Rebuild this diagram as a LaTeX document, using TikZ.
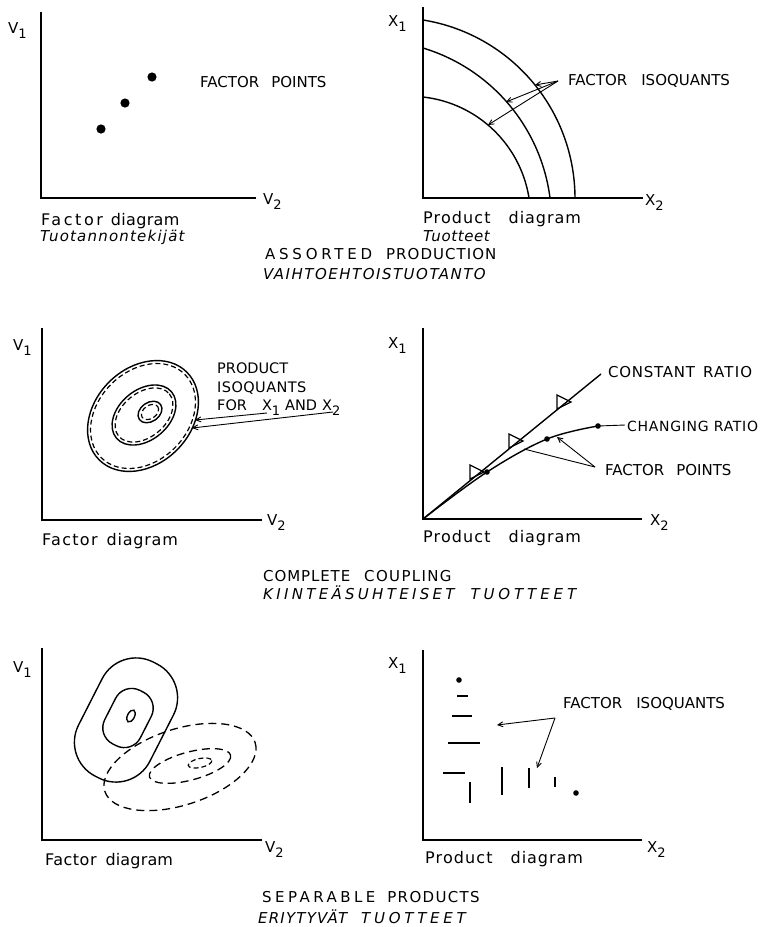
\documentclass[tikz,border=0pt]{standalone}
\usepackage{fontspec}
\setmainfont{DejaVu Sans}
\usetikzlibrary{arrows.meta}
\newcommand\lowsub[1]{\raisebox{-5pt}{\fontsize{13}{13}\selectfont #1}}
\newcommand\lsp[1]{\addfontfeature{LetterSpace=#1}}
\begin{document}
\begin{tikzpicture}[x=1pt,y=-1pt,
  ax/.style={line width=2.2pt},
  crv/.style={line width=1.4pt},
  ldr/.style={line width=0.9pt},
  arr/.style={ldr,-{Straight Barb[length=5pt,width=5pt]}},
  dshS/.style={line width=1.2pt,dash pattern=on 5pt off 3pt},
  dshL/.style={line width=1.3pt,dash pattern=on 8pt off 5pt},
  tri/.style={line width=1.2pt},
  txt/.style={inner sep=0pt,anchor=base west},
  lab/.style={txt,font=\fontsize{15}{15}\selectfont},
  labs/.style={txt,font=\fontsize{14.5}{14.5}\selectfont},
  dia/.style={txt,font=\fontsize{16}{16}\selectfont},
  itl/.style={txt,font=\fontsize{15}{15}\selectfont\itshape},
  capt/.style={txt,font=\fontsize{15}{15}\selectfont},
  capi/.style={txt,font=\fontsize{15}{15}\selectfont\itshape},
]
\useasboundingbox (0,0) rectangle (762,927);

% ================= Row 1 left
\draw[ax] (41,12) -- (41,198) -- (256,198);
\node[lab] (tlV1) at (8,33) {V\lowsub{1}};
\node[lab] (tlV2) at (263,204) {V\lowsub{2}};
\fill (101,129) circle[radius=4.6];
\fill (125,103) circle[radius=4.6];
\fill (152,77) circle[radius=4.6];
\node[lab] (tlfp) at (200,87) {FACTOR\hspace{12pt}POINTS};
\node[dia] (tlfd) at (41,225) {{\lsp{16}Factor}\hspace{8pt}{\lsp{2}diagram}};
\node[itl] (tltu) at (40,241) {\lsp{8}Tuotannontekijät};

% ================= Row 1 right
\draw[ax] (423,7) -- (423,198) -- (643,198);
\node[lab] (trX1) at (388,26) {X\lowsub{1}};
\node[lab] (trX2) at (645,205) {X\lowsub{2}};
\draw[crv] plot[domain=80.9:0,samples=60] ({394.4+180.6*cos(\x)},{198.3-180.6*sin(\x)});
\draw[crv] plot[domain=73.2:7.3,samples=60] ({370.8+180.7*cos(\x)},{221-180.7*sin(\x)});
\draw[crv] plot[domain=83.8:9.0,samples=60] ({409.9+120.6*cos(\x)},{216.9-120.6*sin(\x)});
\node[lab] (trfi) at (568,85) {FACTOR\hspace{14pt}ISOQUANTS};
\coordinate (trS) at (558,81);
\coordinate (trA) at (535,85);
\coordinate (trB) at (506,102);
\coordinate (trC) at (488,125);
\draw[arr] (trS) -- (trA);
\draw[arr] (trS) -- (trB);
\draw[arr] (trS) -- (trC);
\node[dia] (trpd) at (423,223) {{\lsp{7}Product}\hspace{18pt}{\lsp{6}diagram}};
\node[itl] (trtu) at (423,241) {\lsp{4}Tuotteet};

\node[capt] (c1a) at (265,259) {{\lsp{25}ASSORTED}\hspace{14pt}{\lsp{7}PRODUCTION}};
\node[capi] (c1b) at (263,279) {\lsp{10}VAIHTOEHTOISTUOTANTO};

% ================= Row 2 left
\draw[ax] (42,328) -- (42,520) -- (262,520);
\node[lab] (mlV1) at (13,350) {V\lowsub{1}};
\node[lab] (mlV2) at (267,525) {V\lowsub{2}};
\draw[crv,rotate around={45:(143,416)}] (143,416) ellipse[x radius=62,y radius=48];
\draw[dshS,rotate around={45:(143,416)}] (143,416) ellipse[x radius=59,y radius=45];
\draw[crv,rotate around={40:(144,415)}] (144,415) ellipse[x radius=36,y radius=25];
\draw[dshS,rotate around={40:(144,415)}] (144,415) ellipse[x radius=33,y radius=22];
\draw[crv,rotate around={35:(150,412)}] (150,412) ellipse[x radius=13,y radius=9.5];
\draw[dshS,rotate around={35:(150,412)}] (150,412) ellipse[x radius=9.5,y radius=6.5];
\node[labs] (mlp1) at (217,373) {PRODUCT};
\node[labs] (mlp2) at (217,392) {\lsp{3}ISOQUANTS};
\node[labs] (mlp3) at (217,410) {FOR\hspace{15pt}X\lowsub{1}\hspace{5pt}AND\hspace{5pt}X\lowsub{2}};
\coordinate (mlS1) at (267,413);
\coordinate (mlT1) at (195,420);
\coordinate (mlS2) at (333,412);
\coordinate (mlT2) at (192,428);
\draw[arr] (mlS1) -- (mlT1);
\draw[arr] (mlS2) -- (mlT2);
\node[dia] (mlfd) at (42,545) {{\lsp{8}Factor}\hspace{9pt}{\lsp{5}diagram}};

% ================= Row 2 right
\draw[ax] (423,328) -- (423,519) -- (642,519);
\node[lab] (mrX1) at (388,348) {X\lowsub{1}};
\node[lab] (mrX2) at (650,525) {X\lowsub{2}};
\coordinate (mrO) at (423,519);
\coordinate (mrC) at (601,374);
\draw[crv] (mrO) -- (mrC);
\draw[crv] plot[smooth,tension=0.6] coordinates {(423,519) (487,472) (547,439) (598,426)};
\coordinate (mrE) at (598,426);
\coordinate (mrF) at (625,425);
\draw[ldr] (mrE) -- (mrF);
\fill (487,472) circle[radius=2.8];
\fill (547,439) circle[radius=2.8];
\fill (598,426) circle[radius=2.8];
\foreach \cx/\cy in {476/472, 515/441, 563/402}
  \draw[tri] (\cx-6,\cy-7) -- (\cx+8,\cy) -- (\cx-6,\cy+7) -- cycle;
\node[lab] (mrcr) at (608,377) {{\lsp{5}CONSTANT}\hspace{8pt}{\lsp{8}RATIO}};
\node[lab] (mrch) at (627,431) {\fontsize{14}{14}\selectfont\lsp{5}CHANGING RATIO};
\node[lab] (mrfp) at (605,475) {FACTOR\hspace{12pt}POINTS};
\coordinate (mrS) at (595,467);
\coordinate (mrT1) at (524,449);
\coordinate (mrT2) at (557,437);
\draw[ldr] (mrS) -- (mrT1);
\draw[arr] (mrS) -- (mrT2);
\node[dia] (mrpd) at (423,542) {{\lsp{7}Product}\hspace{18pt}{\lsp{6}diagram}};

\node[capt] (c2a) at (263,581) {{\lsp{6}COMPLETE}\hspace{14pt}{\lsp{9}COUPLING}};
\node[capi] (c2b) at (263,599) {{\lsp{22}KIINTEÄSUHTEISET}\hspace{16pt}{\lsp{26}TUOTTEET}};

% ================= Row 3 left
\draw[ax] (42,648) -- (42,840) -- (262,840);
\node[lab] (blV1) at (13,672) {V\lowsub{1}};
\node[lab] (blV2) at (265,852) {V\lowsub{2}};
\draw[crv,rotate around={63:(126,720)},rounded corners=38pt] (62,680) rectangle (190,760);
\draw[crv,rotate around={63:(128,718)},rounded corners=18pt] (98,698) rectangle (158,738);
\draw[crv,rotate around={-27:(131,716)}] (131,716) ellipse[x radius=3.5,y radius=6.5];
\draw[dshL,rotate around={18:(180,767)}] (180,767) ellipse[x radius=79,y radius=38];
\draw[dshL,rotate around={15:(190,766)}] (190,766) ellipse[x radius=42,y radius=14];
\draw[dshS,rotate around={12:(200,763)}] (200,763) ellipse[x radius=12,y radius=4.5];
\node[dia] (blfd) at (45,865) {{\lsp{3}Factor}\hspace{9pt}{\lsp{1}diagram}};

% ================= Row 3 right
\draw[ax] (423,650) -- (423,840) -- (642,840);
\node[lab] (brX1) at (388,668) {X\lowsub{1}};
\node[lab] (brX2) at (647,852) {X\lowsub{2}};
\fill (459,680) circle[radius=2.8];
\fill (576,793) circle[radius=2.8];
\draw[crv] (457,696) -- (468,696);
\draw[crv] (452,716) -- (472,716);
\draw[crv] (448,743) -- (480,743);
\draw[crv] (443,773) -- (465,773);
\draw[crv] (470,782) -- (470,803);
\draw[crv] (502,767) -- (502,795);
\draw[crv] (529,768) -- (529,788);
\draw[crv] (555,777) -- (555,787);
\node[lab] (brfi) at (563,708) {FACTOR\hspace{14pt}ISOQUANTS};
\coordinate (brS) at (555,718);
\coordinate (brT1) at (497,725);
\coordinate (brT2) at (537,768);
\draw[arr] (brS) -- (brT1);
\draw[arr] (brS) -- (brT2);
\node[dia] (brpd) at (425,863) {{\lsp{7}Product}\hspace{18pt}{\lsp{6}diagram}};

\node[capt] (c3a) at (262,902) {{\lsp{23}SEPARABLE}\hspace{12pt}{\lsp{9}PRODUCTS}};
\node[capi] (c3b) at (258,923) {{\lsp{8}ERIYTYVÄT}\hspace{14pt}{\lsp{25}TUOTTEET}};
\end{tikzpicture}
\end{document}
